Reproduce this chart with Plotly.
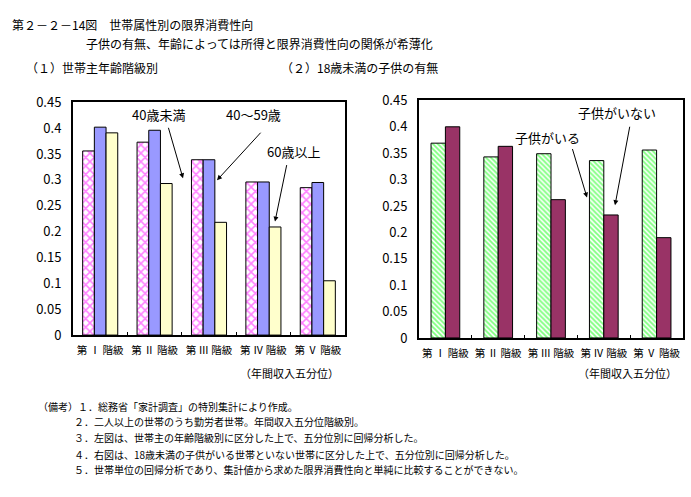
import plotly.graph_objects as go

W, H = 691, 497

# ---- data ----
categories = ["第 Ⅰ 階級", "第 Ⅱ 階級", "第 Ⅲ 階級", "第 Ⅳ 階級", "第 Ⅴ 階級"]
age_under40 = [0.356, 0.373, 0.339, 0.296, 0.285]
age_40to59 = [0.402, 0.396, 0.339, 0.296, 0.295]
age_60over = [0.391, 0.293, 0.218, 0.209, 0.105]
with_child = [0.369, 0.343, 0.349, 0.336, 0.356]
without_child = [0.400, 0.363, 0.262, 0.233, 0.190]
y_ticks = [0, 0.05, 0.1, 0.15, 0.2, 0.25, 0.3, 0.35, 0.4, 0.45]

FONT = "Noto Sans CJK JP"


def px(x, y):
    return x / W, 1 - y / H


fig = go.Figure()

lw = 0.215
fig.add_bar(x=categories, y=age_under40, xaxis="x", yaxis="y", width=lw, offset=-1.5 * lw,
            marker=dict(color="white", line=dict(color="black", width=1),
                        pattern=dict(shape="x", fgcolor="#FF00FF", bgcolor="white", size=6, solidity=0.45)))
fig.add_bar(x=categories, y=age_40to59, xaxis="x", yaxis="y", width=lw, offset=-0.5 * lw,
            marker=dict(color="#9999FF", line=dict(color="black", width=1)))
fig.add_bar(x=categories, y=age_60over, xaxis="x", yaxis="y", width=lw, offset=0.5 * lw,
            marker=dict(color="#FFFFCC", line=dict(color="black", width=1)))

rw = 0.272
fig.add_bar(x=categories, y=with_child, xaxis="x2", yaxis="y2", width=rw, offset=-rw,
            marker=dict(color="white", line=dict(color="black", width=1),
                        pattern=dict(shape="\\", fgcolor="#00FF00", bgcolor="white", size=3.5, solidity=0.55)))
fig.add_bar(x=categories, y=without_child, xaxis="x2", yaxis="y2", width=rw, offset=0,
            marker=dict(color="#993366", line=dict(color="black", width=1)))

axis_common = dict(showline=True, mirror=True, linecolor="black", linewidth=2,
                   showgrid=False, zeroline=False)
xfont = dict(family=FONT, size=10.5, color="black")
yfont = dict(family=FONT, size=13, color="black")

fig.update_layout(
    width=W, height=H,
    margin=dict(l=0, r=0, t=0, b=0),
    paper_bgcolor="white", plot_bgcolor="white",
    barmode="overlay", showlegend=False,
    font=dict(family=FONT, color="black"),
    xaxis=dict(domain=[73 / W, 345 / W], anchor="y", type="category",
               ticks="inside", tickson="boundaries", ticklen=3, tickcolor="black",
               tickangle=0, tickfont=xfont, ticklabelstandoff=4, **axis_common),
    yaxis=dict(domain=[1 - 338 / H, 1 - 96 / H], anchor="x", range=[0, 0.45],
               tickvals=y_ticks, ticks="", tickfont=yfont, ticklabelstandoff=7, **axis_common),
    xaxis2=dict(domain=[419 / W, 683 / W], anchor="y2", type="category",
                ticks="inside", tickson="boundaries", ticklen=3, tickcolor="black",
                tickangle=0, tickfont=xfont, ticklabelstandoff=4, **axis_common),
    yaxis2=dict(domain=[1 - 341 / H, 1 - 94 / H], anchor="x2", range=[0, 0.45],
                tickvals=y_ticks, ticks="", tickfont=yfont, ticklabelstandoff=7, **axis_common),
)

ann = []


def text(x, y, s, size=12, anchor="left"):
    px_, py_ = px(x, y)
    ann.append(dict(x=px_, y=py_, xref="paper", yref="paper", text=s, showarrow=False,
                    xanchor=anchor, yanchor="middle",
                    font=dict(family=FONT, size=size, color="black")))


def arrow(tx, ty, hx, hy):
    hx_, hy_ = px(hx, hy)
    ann.append(dict(x=hx_, y=hy_, xref="paper", yref="paper", text="", showarrow=True,
                    ax=tx - hx, ay=ty - hy, arrowhead=2, arrowsize=1, arrowwidth=1,
                    arrowcolor="black"))


text(10, 15, "第２－２－14図　世帯属性別の限界消費性向", size=12)
text(84, 35, "子供の有無、年齢によっては所得と限界消費性向の関係が希薄化")
text(24, 60, "（１）世帯主年齢階級別")
text(279, 60, "（２）18歳未満の子供の有無")

text(158, 109, "40歳未満", size=13, anchor="center")
text(253, 109, "40～59歳", size=13, anchor="center")
text(293, 147, "60歳以上", size=13, anchor="center")
text(547, 133, "子供がいる", size=13, anchor="center")
text(617, 107, "子供がいない", size=13, anchor="center")
arrow(168, 123, 183, 175)
arrow(262, 128, 217, 177)
arrow(287, 162, 275, 220)
arrow(572, 145, 587, 195)
arrow(630, 123, 615, 203)

text(341, 377, "（年間収入五分位）", size=11, anchor="right")
text(679, 377, "（年間収入五分位）", size=11, anchor="right")

notes = [
    (36, 412, "（備考）１．総務省「家計調査」の特別集計により作成。"),
    (72, 428, "２．二人以上の世帯のうち勤労者世帯。年間収入五分位階級別。"),
    (72, 445, "３．左図は、世帯主の年齢階級別に区分した上で、五分位別に回帰分析した。"),
    (72, 462, "４．右図は、18歳未満の子供がいる世帯といない世帯に区分した上で、五分位別に回帰分析した。"),
    (72, 478, "５．世帯単位の回帰分析であり、集計値から求めた限界消費性向と単純に比較することができない。"),
]
for x, y, s in notes:
    text(x, y, s, size=10)

fig.update_layout(annotations=ann)
fig.write_html("out.html", config={"displayModeBar": False},
               post_script="document.body.style.margin='0';")
